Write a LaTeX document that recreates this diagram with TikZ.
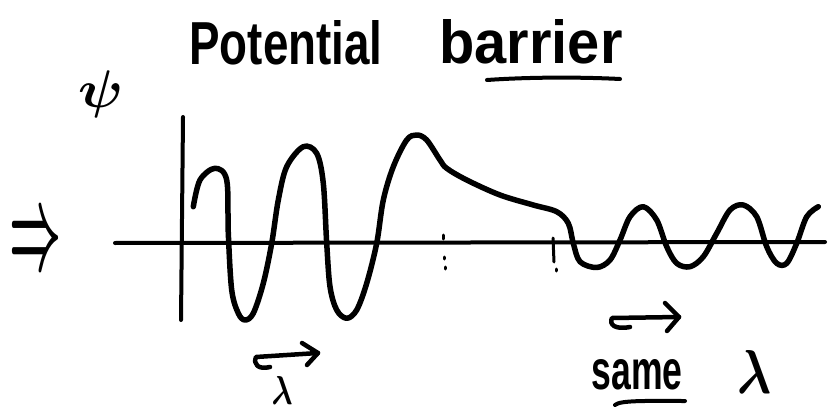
\documentclass[tikz,border=0pt]{standalone}
\usepackage{fontspec}
\setmainfont{Liberation Sans}
\usepackage{graphicx}
\tikzset{
  ink/.style={line cap=round, line join=round, black},
  axisline/.style={ink, line width=4pt},
  wave/.style={ink, line width=5.5pt},
  txt/.style={inner sep=0pt, outer sep=0pt, font=\bfseries},
  tick/.style={ink, line width=3pt},
  lamarrow/.style={ink, line width=4.5pt}
}
\begin{document}
\begin{tikzpicture}[x=1pt,y=-1pt]
\path[use as bounding box, fill=white] (0,0) rectangle (837,414);
% title
\node[txt] (pot) at (286,43) {\resizebox{193pt}{44pt}{Potential}};
\node[txt] (bar) at (531,42) {\resizebox{183pt}{44pt}{barrier}};
\coordinate (ulA) at (487,80);
\coordinate (ulB) at (620,79);
\draw[ink, line width=4pt] (ulA) .. controls (530,77) and (580,77) .. (ulB);
% psi and arrow
\node[txt] (psi) at (101,94) {\resizebox*{45pt}{47pt}{\boldmath$\psi$}};
\node[txt] (inc) at (36,244) {\resizebox*{52pt}{46pt}{\boldmath$\Rightarrow$}};
% axes
\coordinate (xL) at (115,243);
\coordinate (xR) at (825,242);
\coordinate (yT) at (183,117);
\coordinate (yB) at (181,320);
\draw[axisline] (xL) -- (xR);
\draw[axisline] (yT) -- (yB);
% barrier edge marks
\draw[tick] (443,235) -- (443,239);
\draw[tick] (444,257) -- (444,259);
\draw[tick] (445,267) -- (445,269);
\draw[tick] (553,238) -- (554,262);
\draw[tick] (556,269) -- (556,271);
% wave function
\draw[wave] plot[smooth, tension=0.55] coordinates {
(193.3,206.7) (200,180) (215,168.3) (226.7,180) (228.3,233.3) (231.7,290)
(238.3,313.3) (245,320) (253.3,313.3) (263.3,283.3) (271.7,243.3) (278.3,200)
(286.7,166.7) (303.3,146.7) (316.7,153.3) (323.3,183.3) (326.7,243.3) (330,286.7)
(336.7,310) (346.7,318.3) (356.7,310) (366.7,283.3) (376.7,243.3) (383.3,200)
(393.3,166.7) (406.7,140) (416.7,135) (426.7,140) (440,160) (446.7,168.3)
(466.7,180) (500,195) (533.3,205) (556.7,211.7) (568.3,223.3) (573.3,243.3)
(580,261.7) (596.7,267.5) (610,260) (620,240) (630,216.7) (643.3,206.7)
(656.7,220) (666.7,246.7) (676.7,263.3) (690,266.7) (703.3,256.7) (716.7,233.3)
(730,210) (743.3,205) (756.7,216.7) (766.7,246.7) (776.7,263.3) (786.7,263.3)
(796.7,243.3) (806.7,216.7) (818.3,206.7)};
% wavelength arrow (left)
\coordinate (aL1) at (256,357);
\coordinate (aL2) at (318,353);
\draw[lamarrow] (270,367) .. controls (258,370) and (253,364) .. (aL1) -- (aL2);
\draw[lamarrow] (302,343) -- (aL2) -- (307,365);
\node[txt] (lamL) at (282,390) {\resizebox*{21pt}{28pt}{\boldmath$\lambda$}};
% wavelength arrow (right)
\coordinate (aR1) at (612,318);
\coordinate (aR2) at (679,317);
\draw[lamarrow] (630,327) .. controls (614,330) and (609,324) .. (aR1) -- (aR2);
\draw[lamarrow] (665,303) -- (aR2) -- (667,331);
\node[txt] (same) at (637,375) {\resizebox{91pt}{30pt}{same}};
\coordinate (usA) at (615,405);
\coordinate (usB) at (685,401);
\draw[ink, line width=4pt] (usA) .. controls (620,400) and (650,401) .. (usB);
\node[txt] (lamR) at (754,372) {\resizebox*{34pt}{43pt}{\boldmath$\lambda$}};
\end{tikzpicture}
\end{document}
